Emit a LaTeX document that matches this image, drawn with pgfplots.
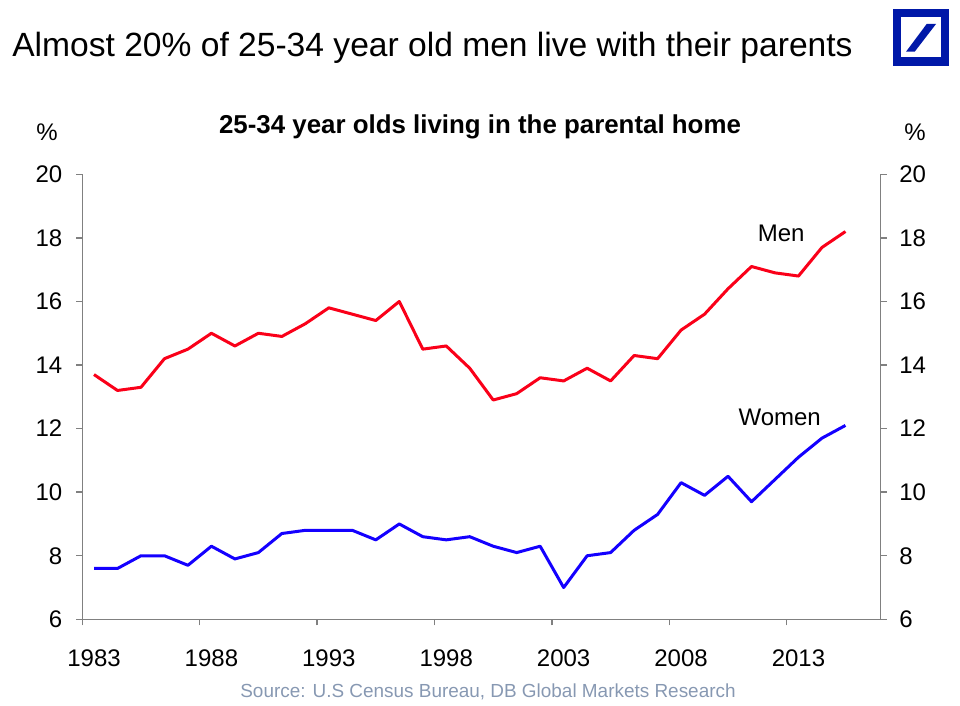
\documentclass[border=0pt]{standalone}
\usepackage{fontspec}
\setmainfont{Liberation Sans}
\usepackage{pgfplots}
\pgfplotsset{compat=1.18}
\definecolor{menred}{RGB}{250,0,25}
\definecolor{womblue}{RGB}{20,0,255}
\definecolor{axgray}{RGB}{128,128,128}
\definecolor{srcgray}{RGB}{135,152,178}
\definecolor{dbblue}{RGB}{0,24,168}
\begin{document}
\begin{tikzpicture}
\path[use as bounding box] (0pt,0pt) rectangle (720pt,529.5pt);
% common style
\pgfplotsset{myax/.style={
  scale only axis, width=598.8pt, height=333.75pt,
  at={(61.7pt,65.0pt)}, anchor=south west,
  xmin=1982.5, xmax=2016.5, ymin=6, ymax=20,
  ytick={6,8,...,20},
  tick align=outside,
  major tick length=4.5pt,
  axis line style={axgray, line width=1.1pt},
  every tick/.style={axgray, line width=1.1pt},
  ticklabel style={font=\fontsize{18}{20}\selectfont},
  /pgf/number format/assume math mode=true,
  /pgf/number format/1000 sep={},
}}
\begin{axis}[myax,
  axis x line*=bottom, axis y line*=left,
  xtick={1982.5,1987.5,...,2012.5},
  xticklabels={},
  extra x ticks={1983,1988,...,2013},
  extra x tick style={major tick length=0pt, xticklabel style={yshift=-19pt}},
  yticklabel style={xshift=-7pt},
  clip=false,
]
\addplot[menred, line width=2.25pt, line join=round] coordinates {
(1983,13.7)(1984,13.2)(1985,13.3)(1986,14.2)(1987,14.5)(1988,15.0)(1989,14.6)(1990,15.0)
(1991,14.9)(1992,15.3)(1993,15.8)(1994,15.6)(1995,15.4)(1996,16.0)(1997,14.5)(1998,14.6)
(1999,13.9)(2000,12.9)(2001,13.1)(2002,13.6)(2003,13.5)(2004,13.9)(2005,13.5)(2006,14.3)
(2007,14.2)(2008,15.1)(2009,15.6)(2010,16.4)(2011,17.1)(2012,16.9)(2013,16.8)(2014,17.7)
(2015,18.2)};
\addplot[womblue, line width=2.25pt, line join=round] coordinates {
(1983,7.6)(1984,7.6)(1985,8.0)(1986,8.0)(1987,7.7)(1988,8.3)(1989,7.9)(1990,8.1)
(1991,8.7)(1992,8.8)(1993,8.8)(1994,8.8)(1995,8.5)(1996,9.0)(1997,8.6)(1998,8.5)
(1999,8.6)(2000,8.3)(2001,8.1)(2002,8.3)(2003,7.0)(2004,8.0)(2005,8.1)(2006,8.8)
(2007,9.3)(2008,10.3)(2009,9.9)(2010,10.5)(2011,9.7)(2012,10.4)(2013,11.1)(2014,11.7)
(2015,12.1)};
\node[font=\fontsize{18}{20}\selectfont] at (axis cs:2012.26,18.15) {Men};
\node[font=\fontsize{18}{20}\selectfont] at (axis cs:2012.2,12.36) {Women};
\end{axis}
\begin{axis}[myax,
  axis x line=none, axis y line*=right,
  yticklabel style={xshift=6pt},
]
\end{axis}
% titles and texts
\node[anchor=base west, font=\fontsize{25.2}{28}\selectfont, inner sep=0pt] at (9pt,487pt) {Almost 20\% of 25-34 year old men live with their parents};
\node[anchor=base, inner sep=0pt, font=\fontsize{19.4}{22}\bfseries\selectfont] at (360pt,429pt) {25-34 year olds living in the parental home};
\node[font=\fontsize{18}{20}\selectfont] at (35.25pt,430.5pt) {\%};
\node[font=\fontsize{18}{20}\selectfont] at (686.25pt,430.5pt) {\%};
\node[font=\fontsize{14.2}{16}\selectfont, text=srcgray] at (366pt,10.5pt) {Source: U.S Census Bureau, DB Global Markets Research};
% logo
\fill[dbblue] (669.5pt,480.2pt) rectangle (711.75pt,522.5pt);
\fill[white] (675.75pt,486.4pt) rectangle (705.75pt,516.4pt);
\fill[dbblue] (679.5pt,490.7pt) -- (686.0pt,490.7pt) -- (702pt,511.5pt) -- (695pt,511.5pt) -- cycle;
\end{tikzpicture}
\end{document}
